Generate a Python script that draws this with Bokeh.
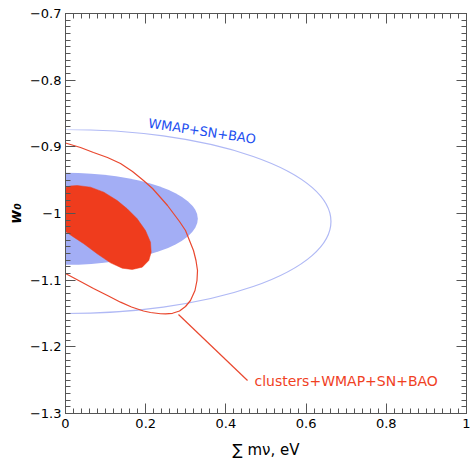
from bokeh.plotting import figure
from bokeh.models import Range1d, FixedTicker, LinearAxis, CustomJSTickFormatter, Label
from bokeh.embed import file_html
from bokeh.resources import INLINE

# ---- data ----
x_ticks = [0, 0.2, 0.4, 0.6, 0.8, 1.0]
y_ticks = [-1.3, -1.2, -1.1, -1.0, -0.9, -0.8, -0.7]

# WMAP+SN+BAO contours (ellipses centred on sum m_nu = 0): [inner filled, outer line]
wmap_center_x = [0.0, 0.0]
wmap_center_y = [-1.008, -1.012]
wmap_width = [0.66, 1.324]      # full widths (2 * semi-axis)
wmap_height = [0.138, 0.276]

# clusters+WMAP+SN+BAO inner (filled) contour
cl_in_x = [0.0, 0.0125, 0.0292, 0.0623, 0.0955, 0.1289, 0.1539, 0.1788, 0.1995, 0.2120,
           0.2137, 0.2077, 0.1913, 0.1663, 0.1414, 0.1122, 0.0790, 0.0456, 0.0207, 0.0]
cl_in_y = [-0.961, -0.9587, -0.958, -0.9605, -0.968, -0.9805, -0.9929, -1.0079, -1.0255, -1.043,
           -1.058, -1.0705, -1.0805, -1.084, -1.082, -1.074, -1.0604, -1.0454, -1.0355, -1.027]

# clusters+WMAP+SN+BAO outer contour
cl_out_x = [0.0, 0.0374, 0.0698, 0.1047, 0.1372, 0.1671, 0.1945, 0.2170, 0.2369, 0.2544,
            0.2693, 0.2843, 0.2993, 0.3092, 0.3192, 0.3254, 0.3292, 0.3279, 0.3229, 0.3117,
            0.2993, 0.2843, 0.2668, 0.2494, 0.2369, 0.2120, 0.1945, 0.1646, 0.1372, 0.1047,
            0.0698, 0.0374, 0.0]
cl_out_y = [-0.8942, -0.901, -0.9085, -0.916, -0.925, -0.937, -0.9505, -0.9625, -0.976, -0.988,
            -1.000, -1.012, -1.0255, -1.0405, -1.0555, -1.0705, -1.0855, -1.1005, -1.1155, -1.1305,
            -1.1395, -1.1462, -1.1497, -1.1507, -1.1504, -1.1485, -1.1462, -1.1402, -1.133, -1.123,
            -1.1125, -1.102, -1.09]

pointer_x = [0.2818, 0.4539]
pointer_y = [-1.1515, -1.2505]

FONT = "DejaVu Sans"
BLUE_FILL = "#a3aef5"
BLUE_LINE = "#b0b9f5"
BLUE_TEXT = "#1d4ff0"
RED_FILL = "#ef3c1d"
RED_LINE = "#e9472e"
RED_TEXT = "#f0411f"
FRAME = "#555555"

p = figure(width=470, height=464, x_range=Range1d(0, 1), y_range=Range1d(-1.3, -0.7),
           output_backend="svg", toolbar_location=None,
           min_border_left=65, min_border_right=4, min_border_top=13, min_border_bottom=51)
p.grid.visible = False
p.outline_line_color = FRAME
p.background_fill_color = "white"

fmt = CustomJSTickFormatter(code="""
const s = parseFloat(Math.abs(tick).toFixed(2)).toString();
return (tick < -1e-9 ? '\\u2212' : '') + s;
""")

x_minor = [round(i * 0.02, 4) for i in range(51)]
y_minor = [round(-1.3 + i * 0.01, 4) for i in range(61)]
xt = FixedTicker(ticks=x_ticks, minor_ticks=x_minor)
yt = FixedTicker(ticks=y_ticks, minor_ticks=y_minor)

def style(ax, show_labels):
    ax.major_tick_in = 10
    ax.major_tick_out = 0
    ax.minor_tick_in = 5
    ax.minor_tick_out = 0
    ax.axis_line_color = FRAME
    ax.major_tick_line_color = FRAME
    ax.minor_tick_line_color = FRAME
    if show_labels:
        ax.formatter = fmt
        ax.major_label_text_font = FONT
        ax.major_label_text_font_size = "13px"
        ax.major_label_text_color = "black"
        ax.major_label_standoff = 5
    else:
        ax.major_label_text_font_size = "0px"
        ax.major_label_standoff = 0
        ax.major_label_text_alpha = 0

p.xaxis.ticker = xt
p.yaxis.ticker = yt
style(p.xaxis[0], True)
style(p.yaxis[0], True)
p.yaxis.major_label_standoff = 4

p.xaxis.axis_label = "\u2211 m\u03bd, eV"
p.xaxis.axis_label_text_font = FONT
p.xaxis.axis_label_text_font_size = "15px"
p.xaxis.axis_label_text_font_style = "normal"
p.xaxis.axis_label_text_color = "black"
p.xaxis.axis_label_standoff = 10

p.yaxis.axis_label = "w\u2080"
p.yaxis.axis_label_text_font = FONT
p.yaxis.axis_label_text_font_size = "15px"
p.yaxis.axis_label_text_font_style = "bold italic"
p.yaxis.axis_label_text_color = "black"
p.yaxis.axis_label_standoff = 2

top = LinearAxis(ticker=xt)
right = LinearAxis(ticker=yt)
style(top, False)
style(right, False)
p.add_layout(top, "above")
p.add_layout(right, "right")

# contours
p.ellipse(x=[wmap_center_x[0]], y=[wmap_center_y[0]], width=[wmap_width[0]], height=[wmap_height[0]],
          fill_color=BLUE_FILL, line_color=None)
p.patch(cl_in_x, cl_in_y, fill_color=RED_FILL, line_color=RED_FILL, line_width=0.5)
p.ellipse(x=[wmap_center_x[1]], y=[wmap_center_y[1]], width=[wmap_width[1]], height=[wmap_height[1]],
          fill_color=None, line_color=BLUE_LINE, line_width=1.2)
p.line(cl_out_x, cl_out_y, line_color=RED_LINE, line_width=1.2)
p.line(pointer_x, pointer_y, line_color=RED_LINE, line_width=1.2)

p.add_layout(Label(x=0.4713, y=-1.2505, text="clusters+WMAP+SN+BAO", text_font=FONT,
                   text_font_size="14px", text_color=RED_TEXT, text_baseline="middle",
                   text_align="left"))
p.add_layout(Label(x=0.207, y=-0.8643, text="WMAP+SN+BAO", text_font=FONT,
                   text_font_size="13px", text_color=BLUE_TEXT, text_baseline="middle",
                   text_align="left", angle=-0.15))

open("out.html", "w").write(file_html(p, INLINE))
